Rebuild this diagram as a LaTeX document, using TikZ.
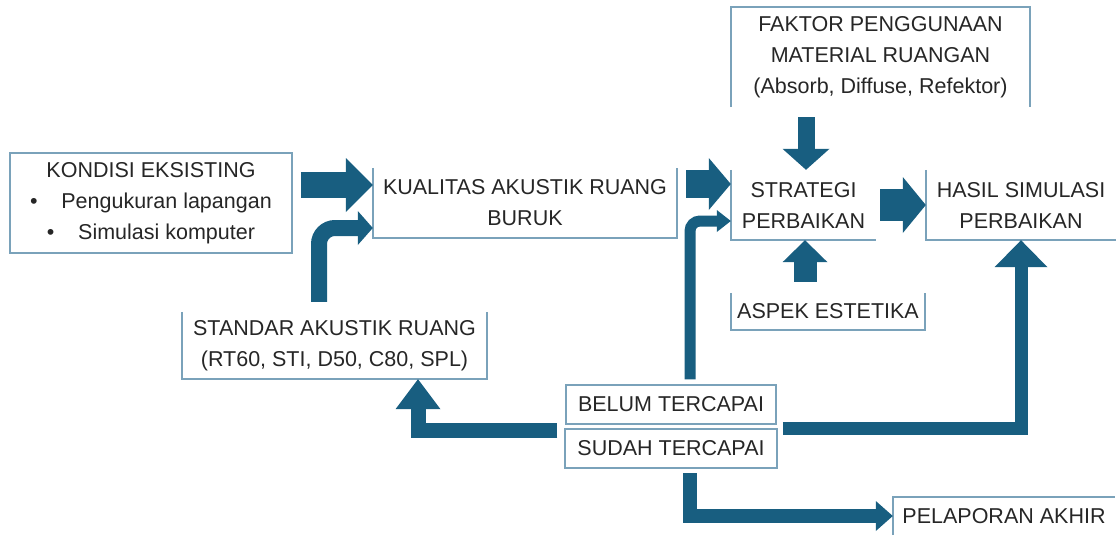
\documentclass[tikz,border=0pt]{standalone}
\usepackage{fontspec}
\setmainfont{Liberation Sans}
\usetikzlibrary{arrows.meta}

\definecolor{arrowblue}{RGB}{24,94,128}
\definecolor{boxline}{RGB}{122,162,186}
\definecolor{textgray}{RGB}{38,38,38}

\begin{document}
\begin{tikzpicture}[x=1pt,y=-1pt]
\tikzset{
  BoxStyle/.style = {inner sep=0pt, align=center, text=textgray,
                     font=\fontsize{21.5}{31}\selectfont},
  FullBox/.style = {BoxStyle, draw=boxline, line width=1.5pt},
  FrameStyle/.style = {draw=boxline, line width=1.5pt},
  BlockArrow/.style n args = {3}{draw=arrowblue, line width=#1,
      -{Triangle[length=#2, width=#3, line width=0pt]}},
}
  \useasboundingbox (0,0) rectangle (1118,536);

  \node[FullBox, minimum width=282pt, minimum height=100pt] (kondisi) at (151,203)
    {KONDISI EKSISTING\\
     \textbullet\hspace{1.1em}Pengukuran lapangan\\
     \textbullet\hspace{1.1em}Simulasi komputer};
  \node[BoxStyle, minimum width=304pt, minimum height=70pt] (kualitas) at (525,203)
    {KUALITAS AKUSTIK RUANG\\ BURUK};
  \node[BoxStyle, minimum width=299pt, minimum height=100pt] (faktor) at (880.5,57)
    {FAKTOR PENGGUNAAN\\ MATERIAL RUANGAN\\ (Absorb, Diffuse, Refektor)};
  \node[BoxStyle, minimum width=145pt, minimum height=70pt] (strategi) at (803.5,205)
    {STRATEGI\\ PERBAIKAN};
  \node[BoxStyle, minimum width=190pt, minimum height=70pt] (hasil) at (1021,205)
    {HASIL SIMULASI\\ PERBAIKAN};
  \node[BoxStyle, minimum width=194pt, minimum height=37pt] (aspek) at (828,311.5)
    {ASPEK ESTETIKA};
  \node[BoxStyle, minimum width=305pt, minimum height=67pt] (standar) at (334.5,345.5)
    {STANDAR AKUSTIK RUANG\\ (RT60, STI, D50, C80, SPL)};
  \node[FullBox, minimum width=210pt, minimum height=39pt] (belum) at (671,404.5)
    {BELUM TERCAPAI};
  \node[FullBox, minimum width=212pt, minimum height=39pt] (sudah) at (671,448.5)
    {SUDAH TERCAPAI};
  \node[BoxStyle, minimum width=222pt, minimum height=38pt] (pelaporan) at (1004,516)
    {PELAPORAN AKHIR};

  % open frames
  \draw[FrameStyle] (kualitas.north west) -- (kualitas.south west)
    -- (kualitas.south east) -- (kualitas.north east);
  \draw[FrameStyle] (faktor.south west) -- (faktor.north west)
    -- (faktor.north east) -- (faktor.south east);
  \draw[FrameStyle] (strategi.north west) -- (strategi.south west) -- (strategi.south east);
  \draw[FrameStyle] (hasil.north west) -- (hasil.south west) -- (hasil.south east);
  \draw[FrameStyle] (aspek.north west) -- (aspek.south west)
    -- (aspek.south east) -- (aspek.north east);
  \draw[FrameStyle] (standar.north west) -- (standar.south west)
    -- (standar.south east) -- (standar.north east);
  \draw[FrameStyle] (pelaporan.south west) -- (pelaporan.north west) -- (pelaporan.north east);

  % straight arrows
  \draw[BlockArrow={26pt}{27pt}{54pt}] ([xshift=8pt,yshift=18pt]kondisi.east)
    -- ([yshift=18pt]kualitas.west);
  \draw[BlockArrow={28pt}{22pt}{52pt}] ([xshift=9pt,yshift=19pt]kualitas.east)
    -- ([yshift=21pt]strategi.west);
  \draw[BlockArrow={17pt}{21pt}{47pt}] ([xshift=-74.5pt,yshift=-10pt]faktor.south)
    -- ([xshift=2.5pt]strategi.north);
  \draw[BlockArrow={32pt}{23pt}{56pt}] ([xshift=4pt]strategi.east) -- (hasil.west);
  \draw[BlockArrow={23pt}{22pt}{45pt}] ([xshift=-23pt,yshift=11pt]aspek.north)
    -- ([xshift=1.5pt]strategi.south);

  % bent arrows
  \draw[BlockArrow={16pt}{15pt}{34pt}, rounded corners=16pt]
    ([xshift=-15.5pt,yshift=10pt]standar.north) |- ([yshift=-25pt]kualitas.west);
  \draw[BlockArrow={11pt}{14pt}{22pt}, rounded corners=10pt]
    ([xshift=19pt,yshift=5pt]belum.north) |- ([yshift=-16pt]strategi.west);
  \draw[BlockArrow={15pt}{30pt}{45pt}] ([xshift=-8pt,yshift=-25.5pt]belum.west)
    -| ([xshift=83.5pt]standar.south);
  \draw[BlockArrow={13pt}{27pt}{53pt}] ([xshift=6pt,yshift=-24pt]belum.east)
    -| (hasil.south);
  \draw[BlockArrow={14pt}{17pt}{30pt}] ([xshift=19pt,yshift=-4.5pt]sudah.south)
    |- (pelaporan.west);

\end{tikzpicture}
\end{document}
